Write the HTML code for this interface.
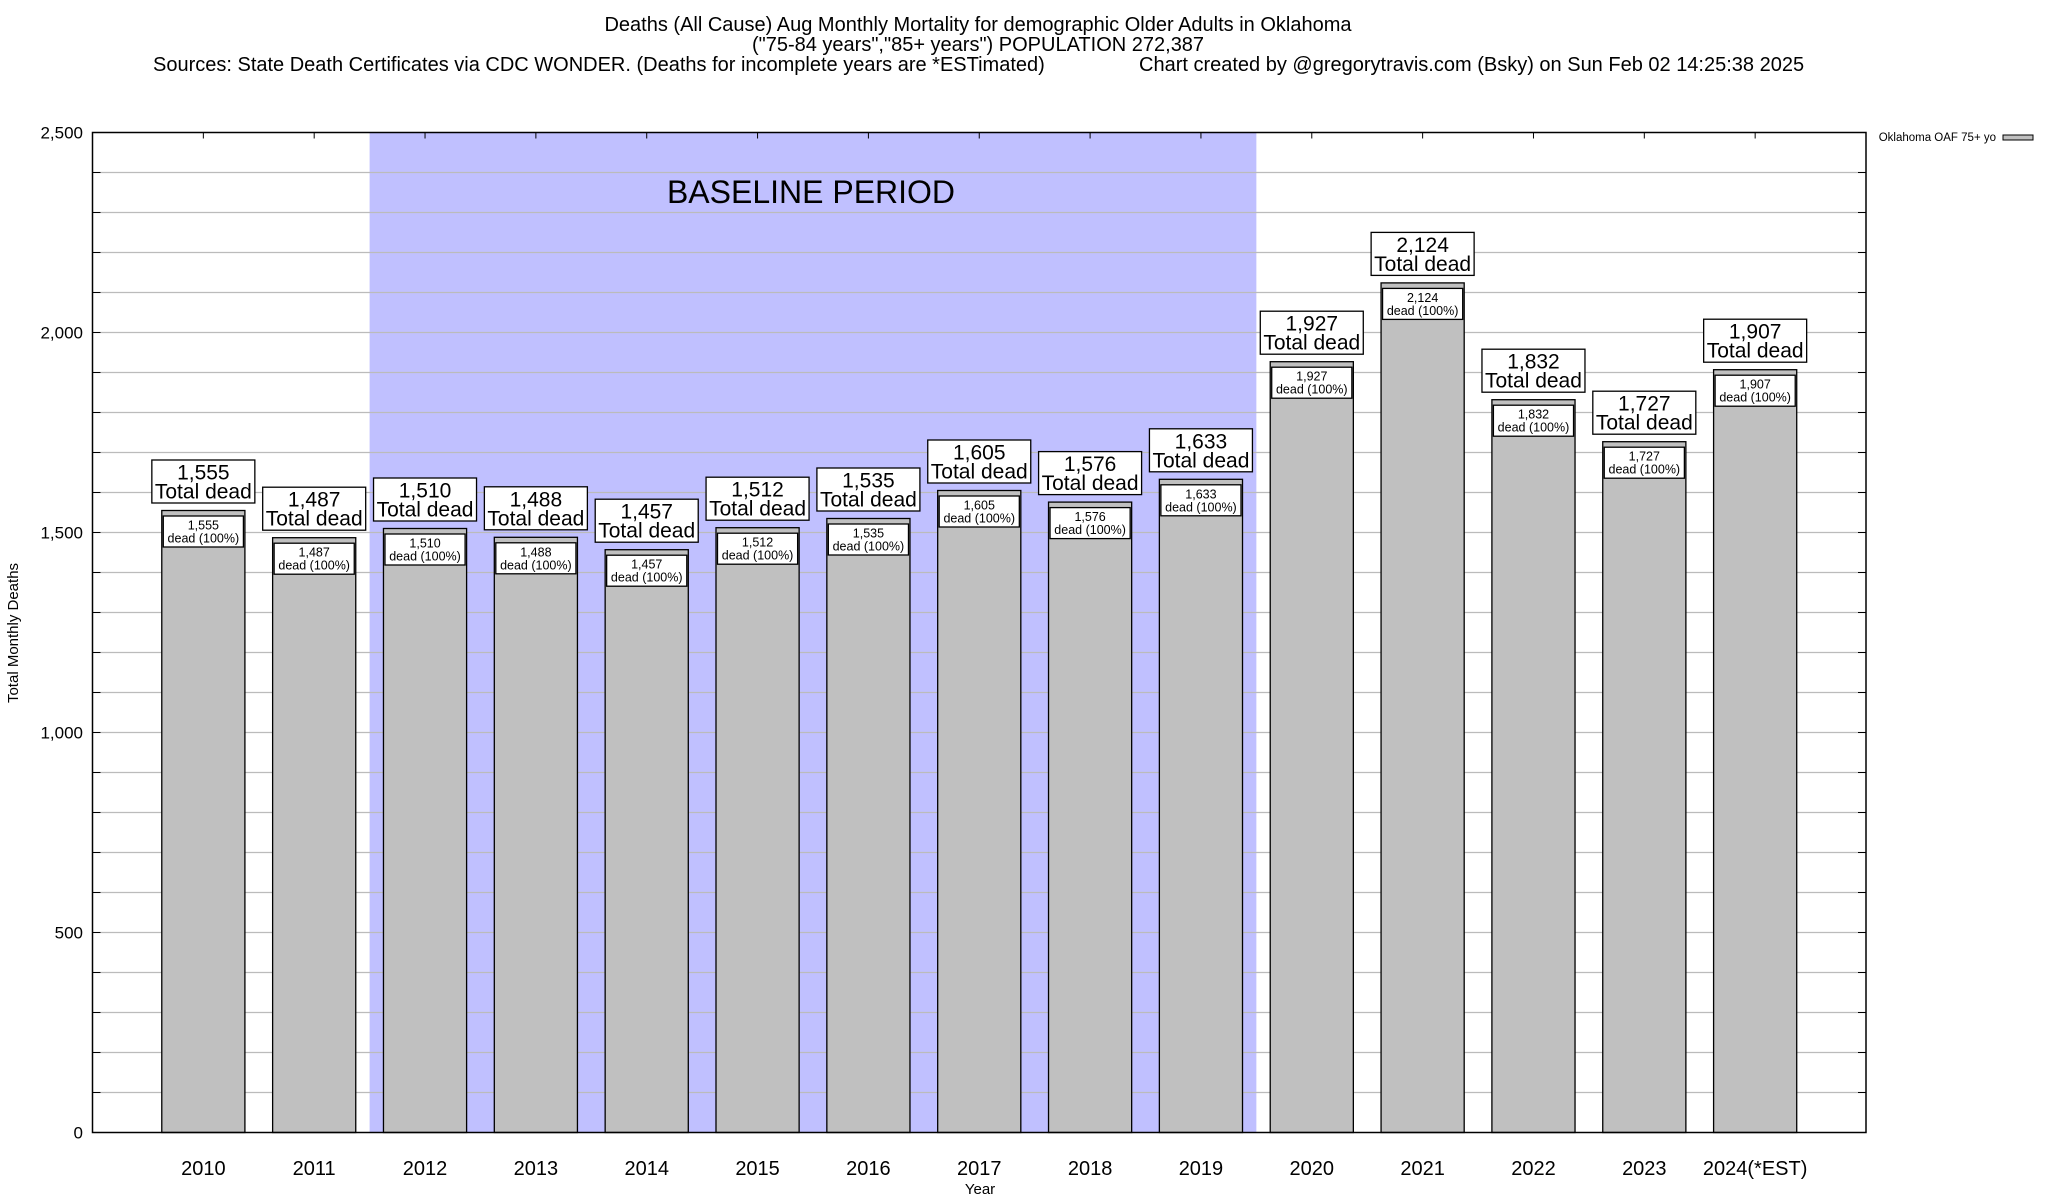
<!DOCTYPE html>
<html><head><meta charset="utf-8"><style>
html,body{margin:0;padding:0;background:#fff;}
svg{display:block;font-family:"Liberation Sans",Arial,sans-serif;}
</style></head><body>
<svg id="chart" width="2048" height="1200" viewBox="0 0 2048 1200">
<g font-size="20" text-anchor="middle" fill="#000">
<text x="978" y="31">Deaths (All Cause) Aug Monthly Mortality for demographic Older Adults in Oklahoma</text>
<text x="978" y="51">("75-84 years","85+ years") POPULATION 272,387</text>
<text x="153" y="71" text-anchor="start">Sources: State Death Certificates via CDC WONDER. (Deaths for incomplete years are *ESTimated)</text>
<text x="1139" y="71" text-anchor="start">Chart created by @gregorytravis.com (Bsky) on Sun Feb 02 14:25:38 2025</text>
</g>
<g id="plot"></g>
<text x="18" y="633" font-size="15" text-anchor="middle" transform="rotate(-90 18 633)">Total Monthly Deaths</text>
<text x="980" y="1194" font-size="15" text-anchor="middle">Year</text>
<g>
<text x="1996" y="141" font-size="11.5" text-anchor="end">Oklahoma OAF 75+ yo</text>
<rect x="2003" y="135" width="30" height="5" fill="#c0c0c0" stroke="#000" stroke-width="1"/>
</g>
</svg>
<script>
const categories = ["2010","2011","2012","2013","2014","2015","2016","2017","2018","2019","2020","2021","2022","2023","2024(*EST)"];
const deaths = [1555,1487,1510,1488,1457,1512,1535,1605,1576,1633,1927,2124,1832,1727,1907];
const yTicks = [0,500,1000,1500,2000,2500];
const baselineStart = 2; // index of 2012
const baselineEnd = 9;   // index of 2019

const NS = "http://www.w3.org/2000/svg";
const L = 92.5, R = 1866, T = 132.5, B = 1132.5, yMax = 2500;
const slot = (R - L) / (categories.length + 1);
const xS = i => L + slot * (i + 1);
const yS = v => B - (v / yMax) * (B - T);
const fmt = v => v.toLocaleString("en-US");
const plot = document.getElementById("plot");
function mk(tag, attrs, parent) {
  const e = document.createElementNS(NS, tag);
  for (const k in attrs) e.setAttribute(k, attrs[k]);
  (parent || plot).appendChild(e);
  return e;
}
const bs = mk("rect", {x: xS(baselineStart) - slot / 2, y: T, width: slot * (baselineEnd - baselineStart + 1), height: B - T, fill: "#c0c0ff"});


for (let v = 100; v < yMax; v += 100) {
  const g = mk("line", {x1: L, x2: R, y1: yS(v), y2: yS(v), stroke: "#bbb", "stroke-width": 1.2});
  
  
  const t1 = mk("line", {x1: L, x2: L + 8, y1: yS(v), y2: yS(v), stroke: "#000", "stroke-width": 1});
  
  
  const t2 = mk("line", {x1: R - 8, x2: R, y1: yS(v), y2: yS(v), stroke: "#000", "stroke-width": 1});
  
  
}
const bt = mk("text", {x: (xS(baselineStart) + xS(baselineEnd)) / 2 - 2, y: 203, "font-size": 32, "text-anchor": "middle"});
bt.textContent = "BASELINE PERIOD";


yTicks.forEach(v => {
  const t = mk("text", {x: 83, y: yS(v) + 6, "font-size": 17, "text-anchor": "end"});
  t.textContent = fmt(v);
  
  
});
const bw = slot * 0.75;
categories.forEach((c, i) => {
  const cx = xS(i), v = deaths[i], top = yS(v);
  const g = mk("g", {});
  
  
  mk("rect", {x: cx - bw / 2, y: top, width: bw, height: B - top, fill: "#c0c0c0", stroke: "#000", "stroke-width": 1.3}, g);
  mk("rect", {x: cx - bw / 2 + 1.5, y: top + 5.5, width: bw - 3, height: 31, fill: "#fff", stroke: "#000", "stroke-width": 1.3}, g);
  const t1 = mk("text", {x: cx, y: top + 19, "font-size": 12.5, "text-anchor": "middle"}, g);
  t1.textContent = fmt(v);
  const t2 = mk("text", {x: cx, y: top + 32, "font-size": 12.5, "text-anchor": "middle"}, g);
  t2.textContent = "dead (100%)";
  const lb = mk("g", {}, g);
  
  
  mk("rect", {x: cx - 51.5, y: top - 50.5, width: 103, height: 43, fill: "#fff", stroke: "#000", "stroke-width": 1.3}, lb);
  const l1 = mk("text", {x: cx, y: top - 31, "font-size": 21, "text-anchor": "middle"}, lb);
  l1.textContent = fmt(v);
  const l2 = mk("text", {x: cx, y: top - 12, "font-size": 21, "text-anchor": "middle"}, lb);
  l2.textContent = "Total dead";
  const tk = mk("line", {x1: cx, x2: cx, y1: T, y2: T + 6, stroke: "#000", "stroke-width": 1});
  
  
  const xl = mk("text", {x: cx, y: 1175, "font-size": 20, "text-anchor": "middle"});
  xl.textContent = c;
  
  
});
const frame = mk("rect", {x: L, y: T, width: R - L, height: B - T, fill: "none", stroke: "#000", "stroke-width": 1.5});


</script>
</body></html>
